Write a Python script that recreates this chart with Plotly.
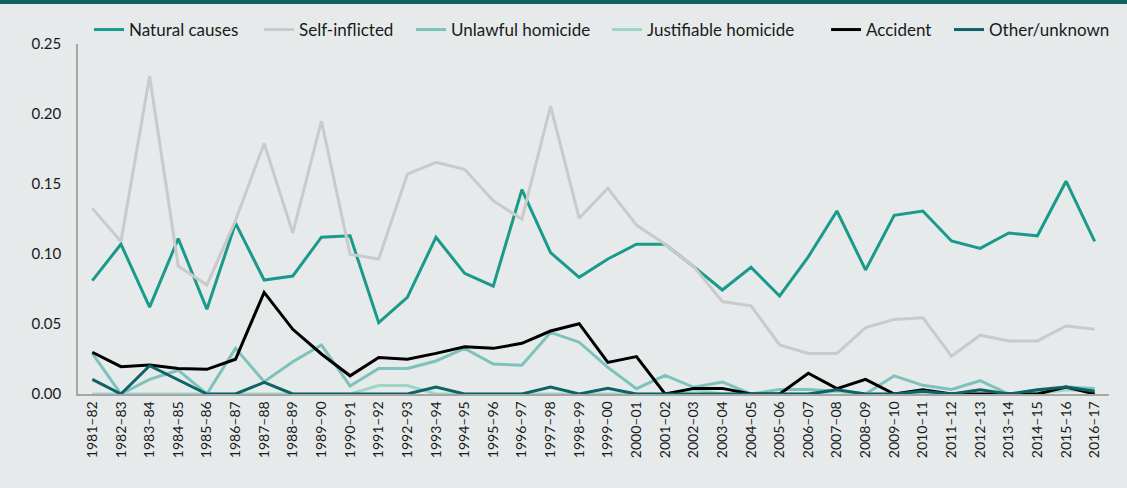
import plotly.graph_objects as go

years = ["1981–82","1982–83","1983–84","1984–85","1985–86","1986–87","1987–88","1988–89","1989–90","1990–91",
         "1991–92","1992–93","1993–94","1994–95","1995–96","1996–97","1997–98","1998–99","1999–00","2000–01",
         "2001–02","2002–03","2003–04","2004–05","2005–06","2006–07","2007–08","2008–09","2009–10","2010–11",
         "2011–12","2012–13","2013–14","2014–15","2015–16","2016–17"]

natural_causes = [0.081,0.107,0.062,0.111,0.0605,0.122,0.0814,0.0843,0.112,0.113,
                  0.051,0.069,0.112,0.0862,0.077,0.146,0.101,0.0833,0.0964,0.107,
                  0.107,0.091,0.0743,0.0905,0.070,0.098,0.1307,0.0886,0.1276,0.1307,
                  0.1093,0.104,0.115,0.113,0.152,0.109]
self_inflicted = [0.1326,0.109,0.227,0.0914,0.0779,0.124,0.179,0.115,0.195,0.0998,
                  0.0964,0.157,0.1655,0.1605,0.138,0.125,0.2057,0.1255,0.147,0.1207,
                  0.107,0.091,0.066,0.063,0.035,0.029,0.029,0.0474,0.0533,0.0545,
                  0.027,0.042,0.0379,0.0379,0.0486,0.0462]
unlawful_homicide = [0.029,0.0,0.0105,0.017,0.0,0.0326,0.0088,0.023,0.035,0.0057,
                     0.0183,0.0183,0.0236,0.0326,0.0214,0.0205,0.044,0.037,0.019,0.0038,
                     0.0133,0.0048,0.0086,0.0,0.0033,0.0033,0.002,0.0,0.013,0.0062,
                     0.0033,0.0095,0.0,0.002,0.005,0.004]
justifiable_homicide = [0.0,0.0,0.0,0.0,0.0,0.0,0.0,0.0,0.0,0.0,
                        0.006,0.006,0.0,0.0,0.0,0.0,0.0,0.0,0.0,0.0,
                        0.0,0.003,0.0,0.0,0.0,0.0,0.002,0.0,0.0,0.0,
                        0.0,0.0,0.0,0.0,0.003,0.002]
accident = [0.0298,0.0195,0.0207,0.0183,0.0176,0.0248,0.0726,0.0462,0.0286,0.013,
            0.026,0.0248,0.029,0.0338,0.0326,0.0362,0.045,0.0502,0.0226,0.0267,
            0.0,0.004,0.004,0.0,0.0,0.0148,0.0038,0.0105,0.0,0.003,
            0.0,0.0,0.0,0.0,0.005,0.0]
other_unknown = [0.0105,0.0,0.0202,0.010,0.0,0.0,0.0083,0.0,0.0,0.0,
                 0.0,0.0,0.005,0.0,0.0,0.0,0.005,0.0,0.004,0.0,
                 0.0,0.0,0.0,0.0,0.0,0.0,0.003,0.0,0.0,0.002,
                 0.0,0.003,0.0,0.003,0.005,0.002]

series = [
    ("Natural causes", natural_causes, "#1a9a8b"),
    ("Self-inflicted", self_inflicted, "#c9cacb"),
    ("Unlawful homicide", unlawful_homicide, "#7dc2bd"),
    ("Justifiable homicide", justifiable_homicide, "#9dd6c5"),
    ("Accident", accident, "#000000"),
    ("Other/unknown", other_unknown, "#0e6366"),
]
# pixel x where each legend entry starts (layout only)
legend_starts = [96, 266, 418, 614, 833, 956]

FONT = "Lato"
W, H = 1127, 488
ml, mr, mt, mb = 78, 18, 44, 94
pw, ph = W - ml - mr, H - mt - mb

fig = go.Figure()
legend_layouts = {}
for i, (name, vals, col) in enumerate(series):
    lname = "legend" if i == 0 else f"legend{i+1}"
    fig.add_trace(go.Scatter(x=years, y=vals, name=name, mode="lines",
                             line=dict(color=col, width=3), legend=lname))
    legend_layouts[lname] = dict(
        orientation="h", x=(legend_starts[i] - 7 - ml) / pw, xanchor="left",
        y=1 + 14 / ph, yanchor="middle",
        font=dict(size=17, family=FONT, color="#1a1a1a"),
        bgcolor="rgba(0,0,0,0)", itemwidth=30)

fig.update_layout(
    width=W, height=H,
    margin=dict(l=ml, r=mr, t=mt, b=mb, autoexpand=False),
    paper_bgcolor="#e6eaeb", plot_bgcolor="#e6eaeb",
    font=dict(family=FONT, size=15, color="#1a1a1a"),
    showlegend=True,
    xaxis=dict(type="category", range=[-0.5, len(years) - 0.5], tickangle=-90,
               showline=True, linecolor="#a6a6a6", linewidth=1.5, showgrid=False, zeroline=False,
               ticks="", tickfont=dict(size=14, family=FONT)),
    yaxis=dict(range=[0, 0.25], dtick=0.05, tickformat=".2f", showline=True, linecolor="#a6a6a6",
               linewidth=1.5, showgrid=False, zeroline=False, ticks="", ticklabelstandoff=12,
               tickfont=dict(size=15, family=FONT)),
    shapes=[dict(type="rect", xref="paper", yref="paper",
                 x0=-ml / pw, x1=1 + mr / pw, y0=1 + (mt - 4) / ph, y1=1 + mt / ph,
                 fillcolor="#0f6164", line=dict(width=0), layer="above")],
    **legend_layouts,
)

fig.write_html("out.html", config={"displayModeBar": False},
               post_script="document.body.style.margin='0';document.body.style.overflow='hidden';")
